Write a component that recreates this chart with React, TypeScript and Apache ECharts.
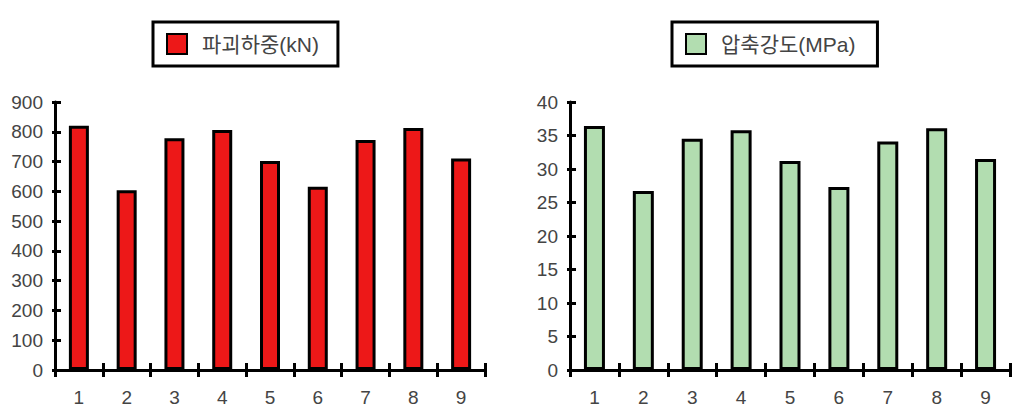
import React, { useEffect, useRef } from "react";
import * as echarts from "echarts";

const categories = ["1", "2", "3", "4", "5", "6", "7", "8", "9"];
const loadName = "파괴하중(kN)";
const strengthName = "압축강도(MPa)";
const loadValues = [820, 604, 778, 806, 702, 615, 772, 813, 710];
const strengthValues = [36.4, 26.7, 34.5, 35.8, 31.2, 27.3, 34.1, 36.1, 31.5];

const FONT = "'Liberation Sans', 'Noto Sans CJK KR', sans-serif";
const LABEL_COLOR = "#444";

export default function App() {
  const ref = useRef<HTMLDivElement>(null);
  useEffect(() => {
    if (!ref.current) return;
    const chart = echarts.init(ref.current, undefined, { renderer: "svg" });
    const grids = [
      { left: 55, right: 535, top: 102, bottom: 48 },
      { left: 570, right: 10, top: 102, bottom: 48 },
    ];
    const mkX = (gi: number, inside: boolean) => ({
      type: "category",
      gridIndex: gi,
      position: "bottom",
      offset: 0,
      data: categories,
      boundaryGap: true,
      axisLine: { show: !inside, onZero: false, lineStyle: { color: "#000", width: 3 } },
      axisTick: { show: true, inside, length: 7, lineStyle: { color: "#000", width: 3 } },
      axisLabel: { show: !inside, color: LABEL_COLOR, fontSize: 19, fontFamily: FONT, margin: 18 },
      splitLine: { show: false },
    });
    const mkY = (gi: number, inside: boolean, max: number, interval: number) => ({
      type: "value",
      gridIndex: gi,
      position: "left",
      offset: 0,
      min: 0,
      max,
      interval,
      axisLine: { show: !inside, onZero: false, lineStyle: { color: "#000", width: 3 } },
      axisTick: { show: true, inside, length: inside ? 6 : 3, lineStyle: { color: "#000", width: 3 } },
      axisLabel: { show: !inside, color: LABEL_COLOR, fontSize: 19, fontFamily: FONT, margin: 12 },
      splitLine: { show: false },
    });
    const mkLegend = (name: string, left: number, padRight: number) => ({
      data: [{ name, icon: "rect" }],
      left,
      top: 22,
      padding: [11, padRight, 11, 13],
      itemWidth: 20,
      itemHeight: 20,
      borderColor: "#000",
      borderWidth: 3,
      textStyle: { color: LABEL_COLOR, fontSize: 21, fontFamily: FONT, padding: [0, 0, 0, 10] },
    });
    chart.setOption({
      animation: false,
      backgroundColor: "#fff",
      grid: grids,
      xAxis: [mkX(0, false), mkX(0, true), mkX(1, false), mkX(1, true)],
      yAxis: [
        mkY(0, false, 900, 100),
        mkY(0, true, 900, 100),
        mkY(1, false, 40, 5),
        mkY(1, true, 40, 5),
      ],
      legend: [mkLegend(loadName, 153, 19), mkLegend(strengthName, 672, 22)],
      series: [
        {
          name: loadName,
          type: "bar",
          xAxisIndex: 0,
          yAxisIndex: 0,
          data: loadValues,
          barWidth: 20,
          itemStyle: { color: "#ED1818", borderColor: "#000", borderWidth: 3 },
        },
        {
          name: strengthName,
          type: "bar",
          xAxisIndex: 2,
          yAxisIndex: 2,
          data: strengthValues,
          barWidth: 21,
          itemStyle: { color: "#B2DDB0", borderColor: "#000", borderWidth: 3 },
        },
      ],
    });
    return () => chart.dispose();
  }, []);
  return (
    <div
      ref={ref}
      style={{ position: "absolute", left: 0, top: 0, width: 1020, height: 418, background: "#fff" }}
    />
  );
}
